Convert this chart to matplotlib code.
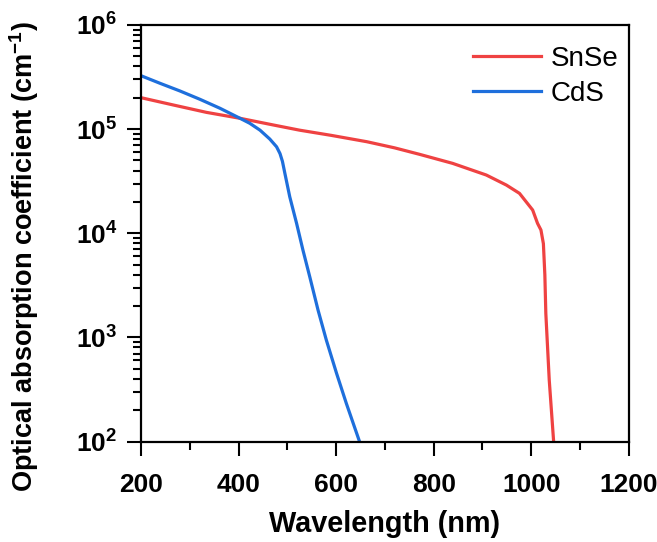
import numpy as np
import matplotlib
matplotlib.use("Agg")
import matplotlib.pyplot as plt
from matplotlib.ticker import FixedLocator, LogLocator, NullFormatter, MultipleLocator

plt.rcParams['font.family'] = ['Liberation Sans', 'DejaVu Sans']
plt.rcParams['mathtext.fontset'] = 'custom'
plt.rcParams['mathtext.rm'] = 'Liberation Sans'
plt.rcParams['mathtext.bf'] = 'Liberation Sans:bold'

# absorption curves, wavelength in nm, log10(alpha / cm^-1)
snse_nm = [200, 266, 334, 403, 471, 525, 590, 663, 720, 771, 839, 908, 949, 976,
           1003, 1013, 1020, 1025, 1028, 1030, 1037, 1046]
snse_log = [5.302, 5.232, 5.161, 5.104, 5.04, 4.99, 4.94, 4.879, 4.82, 4.758, 4.671, 4.559,
            4.463, 4.383, 4.223, 4.095, 4.031, 3.9, 3.6, 3.23, 2.59, 2.0]

cds_nm = [200, 239, 280, 321, 362, 403, 423, 444, 464, 478, 485, 490, 495, 505, 519,
          532, 546, 563, 580, 601, 621, 648]
cds_log = [5.513, 5.44, 5.366, 5.286, 5.2, 5.104, 5.056, 4.99, 4.905, 4.83, 4.765, 4.69,
           4.575, 4.35, 4.095, 3.839, 3.582, 3.262, 2.974, 2.654, 2.366, 2.0]

red = '#EF4242'
blue = '#1E6FDC'

fig = plt.figure(figsize=(6.57, 5.42), dpi=100)
ax = fig.add_axes([0.2146, 0.1854, 0.7424, 0.7685])

ax.plot(snse_nm, 10 ** np.array(snse_log), color=red, lw=2.3, label='SnSe')
ax.plot(cds_nm, 10 ** np.array(cds_log), color=blue, lw=2.3, label='CdS')

ax.set_yscale('log')
ax.set_xlim(200, 1200)
ax.set_ylim(1e2, 1e6)

ax.xaxis.set_major_locator(MultipleLocator(200))
ax.xaxis.set_minor_locator(MultipleLocator(100))
ax.yaxis.set_major_locator(FixedLocator([1e2, 1e3, 1e4, 1e5, 1e6]))
ax.yaxis.set_minor_locator(LogLocator(base=10, subs=np.arange(2, 10)))
ax.yaxis.set_minor_formatter(NullFormatter())
ax.set_yticklabels([r'$\mathbf{10^{%d}}$' % e for e in range(2, 7)])

for lab in ax.get_xticklabels():
    lab.set_fontweight('bold')
ax.tick_params(axis='both', which='major', direction='out', length=10, width=1.5,
               labelsize=19, pad=7)
ax.tick_params(axis='both', which='minor', direction='out', length=5.5, width=1.5)
ax.tick_params(axis='x', which='major', pad=13)

for s in ax.spines.values():
    s.set_linewidth(1.6)

ax.set_xlabel('Wavelength (nm)', fontsize=20.8, fontweight='bold', labelpad=9)
ax.set_ylabel(r'Optical absorption coefficient (cm$^{\mathbf{-1}}$)', fontsize=19.5,
              fontweight='bold')
ax.yaxis.set_label_coords(-0.205, 0.445)

ax.legend(loc='upper right', bbox_to_anchor=(1.022, 1.0), frameon=False, fontsize=20,
          handlelength=2.45, handletextpad=0.35, labelspacing=0.33, borderaxespad=0.35)

fig.savefig('out.png', dpi=100)
